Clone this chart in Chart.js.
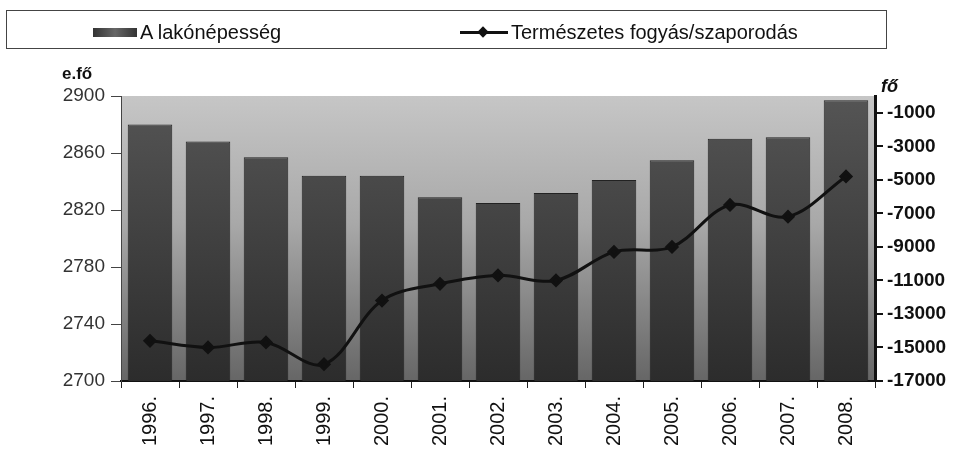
<!DOCTYPE html>
<html lang="hu">
<head>
    <meta charset="UTF-8">
    <title>Lakónépesség és természetes fogyás</title>
    <script src="https://cdn.jsdelivr.net/npm/chart.js"></script>
    <style>
        body { margin: 0; background: #fff; font-family: "Liberation Sans", Arial, sans-serif; }
        .wrap { position: relative; width: 955px; height: 449px; }
        canvas { position: absolute; left: 0; top: 0; }
        .legend-box { position: absolute; left: 6px; top: 10px; width: 881px; height: 39px; border: 1px solid #444; box-sizing: border-box; }
        .swatch { position: absolute; left: 93px; top: 28px; width: 44px; height: 9px; background: linear-gradient(90deg, #333, #666 50%, #333); }
        .legend-text { position: absolute; top: 20px; font-size: 20px; line-height: 24px; color: #111; }
        .legend-line { position: absolute; left: 460px; top: 31px; width: 48px; height: 3px; background: #111; }
        .legend-diamond { position: absolute; left: 479px; top: 28px; width: 8px; height: 8px; background: #111; transform: rotate(45deg); }
        .axis-title { position: absolute; font-weight: bold; color: #111; }
    </style>
</head>
<body>
    <div class="wrap">
        <canvas id="chart" width="955" height="449"></canvas>
        <div class="legend-box"></div>
        <div class="swatch"></div>
        <div class="legend-text" style="left:140px">A lakónépesség</div>
        <div class="legend-line"></div>
        <div class="legend-diamond"></div>
        <div class="legend-text" style="left:511px">Természetes fogyás/szaporodás</div>
        <div class="axis-title" style="left:62px; top:64px; font-size:17px;">e.fő</div>
        <div class="axis-title" style="left:881px; top:76px; font-size:18px; font-style:italic;">fő</div>
    </div>

    <script>
        // data
        const years = ['1996.', '1997.', '1998.', '1999.', '2000.', '2001.', '2002.',
                       '2003.', '2004.', '2005.', '2006.', '2007.', '2008.'];
        const population = [2880, 2868, 2857, 2844, 2844, 2829, 2825, 2832, 2841, 2855, 2870, 2871, 2897];
        const naturalChange = [-14600, -15000, -14700, -16000, -12200, -11200, -10700,
                               -11000, -9300, -9000, -6500, -7200, -4800];
        const rightTicks = [-17000, -15000, -13000, -11000, -9000, -7000, -5000, -3000, -1000];

        Chart.defaults.font.family = '"Liberation Sans", Arial, sans-serif';
        Chart.defaults.font.size = 19;
        Chart.defaults.color = '#222';

        // grey plot background
        const plotBackground = {
            id: 'plotBackground',
            beforeDraw(chart) {
                const { ctx, chartArea: a } = chart;
                const g = ctx.createLinearGradient(0, a.top, 0, a.bottom);
                g.addColorStop(0, '#c6c6c6');
                g.addColorStop(0.45, '#a8a8a8');
                g.addColorStop(1, '#666');
                ctx.save();
                ctx.fillStyle = g;
                ctx.fillRect(a.left, a.top, a.right - a.left, a.bottom - a.top);
                ctx.restore();
            }
        };

        const barFill = (context) => {
            const a = context.chart.chartArea;
            if (!a) return '#4a4a4a';
            const g = context.chart.ctx.createLinearGradient(0, a.top, 0, a.bottom);
            g.addColorStop(0, '#555');
            g.addColorStop(1, '#2c2c2c');
            return g;
        };

        new Chart(document.getElementById('chart'), {
            type: 'bar',
            data: {
                labels: years,
                datasets: [
                    {
                        type: 'line',
                        label: 'Természetes fogyás/szaporodás',
                        data: naturalChange,
                        yAxisID: 'y1',
                        borderColor: '#111',
                        backgroundColor: '#111',
                        borderWidth: 3,
                        tension: 0.35,
                        pointStyle: 'rectRot',
                        pointRadius: 5,
                        order: 0
                    },
                    {
                        label: 'A lakónépesség',
                        data: population,
                        yAxisID: 'y',
                        backgroundColor: barFill,
                        borderColor: '#222',
                        borderWidth: 1,
                        categoryPercentage: 0.8,
                        barPercentage: 0.96,
                        order: 1
                    }
                ]
            },
            options: {
                responsive: false,
                animation: false,
                layout: { padding: { top: 96 } },
                plugins: {
                    legend: { display: false },
                    tooltip: { enabled: false }
                },
                scales: {
                    x: {
                        grid: { drawOnChartArea: false, tickLength: 7, color: '#222' },
                        border: { color: '#111', width: 2 },
                        ticks: { minRotation: 90, maxRotation: 90, padding: 8, color: '#111', font: { size: 20 } },
                        afterFit: s => { s.height = 68; }
                    },
                    y: {
                        position: 'left',
                        min: 2700,
                        max: 2900,
                        grid: { drawOnChartArea: false, tickLength: 10, color: '#444' },
                        border: { color: '#444', width: 1 },
                        ticks: { stepSize: 40, padding: 6, color: '#333', callback: v => String(v) },
                        afterFit: s => { s.width = 121; }
                    },
                    y1: {
                        position: 'right',
                        min: -17000,
                        max: 0,
                        grid: { drawOnChartArea: false, tickLength: 8, color: '#111', lineWidth: 2 },
                        border: { color: '#111', width: 3 },
                        ticks: { padding: 4, color: '#111', font: { size: 19, weight: 'bold' }, callback: v => String(v) },
                        afterBuildTicks: s => { s.ticks = rightTicks.map(v => ({ value: v })); },
                        afterFit: s => { s.width = 80; }
                    }
                }
            },
            plugins: [plotBackground]
        });
    </script>
</body>
</html>
